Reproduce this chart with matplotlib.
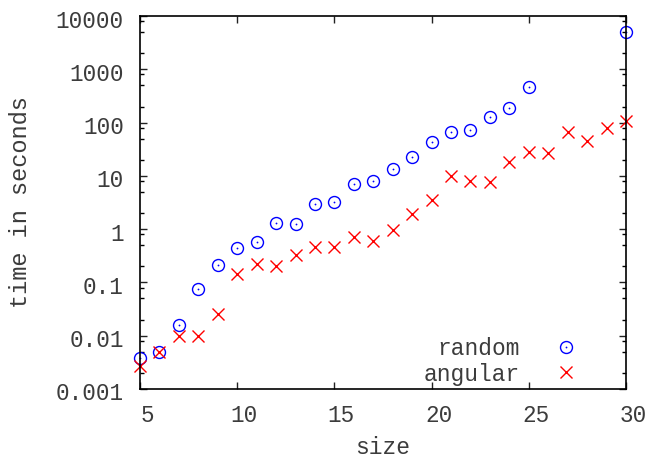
import matplotlib
matplotlib.use("Agg")
import matplotlib.pyplot as plt
from matplotlib.ticker import LogLocator, FixedLocator, NullFormatter
from matplotlib.legend_handler import HandlerTuple
from matplotlib.transforms import ScaledTranslation

plt.rcParams['font.family'] = ['Liberation Mono', 'DejaVu Sans Mono']

random_size = [5, 6, 7, 8, 9, 10, 11, 12, 13, 14, 15, 16, 17, 18, 19, 20, 21, 22, 23, 24, 25, 30]
random_time = [0.0039, 0.0049, 0.0159, 0.0743, 0.212, 0.436, 0.566, 1.32, 1.25, 3.00, 3.23,
               7.1, 8.0, 13.6, 22.3, 43.2, 65.6, 72.5, 129, 190, 465, 4940]

angular_size = list(range(5, 31))
angular_time = [0.00273, 0.0049, 0.0099, 0.0099, 0.0255, 0.142, 0.219, 0.206, 0.327, 0.468,
                0.468, 0.703, 0.598, 0.965, 1.90, 3.52, 9.93, 8.11, 7.66, 18.4, 27.7, 26.5,
                67.3, 45.6, 80.0, 108]

x_ticks = [5, 10, 15, 20, 25, 30]
y_ticks = [0.001, 0.01, 0.1, 1, 10, 100, 1000, 10000]
y_tick_labels = ['0.001', '0.01', '0.1', '1', '10', '100', '1000', '10000']

fig = plt.figure(figsize=(6.46, 4.59), dpi=100)
ax = fig.add_axes([140/646, 1 - 389/459, (626-140)/646, (389-16)/459])

blue = '#0000ff'
red = '#ff0000'
txt = '#3c3c3c'

c1, = ax.plot(random_size, random_time, linestyle='none', marker='o', markersize=8.6,
              markerfacecolor='none', markeredgecolor=blue, markeredgewidth=1.0, clip_on=False)
c2, = ax.plot(random_size, random_time, linestyle='none', marker='o', markersize=1.3,
              markerfacecolor=blue, markeredgecolor=blue, markeredgewidth=0, clip_on=False)
a1, = ax.plot(angular_size, angular_time, linestyle='none', marker='x', markersize=9,
              markeredgecolor=red, markeredgewidth=1.0, clip_on=False)

ax.set_yscale('log')
ax.set_xlim(5, 30)
ax.set_ylim(0.001, 10000)
ax.set_xticks(x_ticks)
ax.set_xticklabels([str(v) for v in x_ticks])
ax.set_yticks(y_ticks)
ax.set_yticklabels(y_tick_labels)
ax.yaxis.set_minor_locator(LogLocator(base=10, subs=(2.0, 5.0, 8.0), numticks=20))
ax.yaxis.set_minor_formatter(NullFormatter())
ax.xaxis.set_minor_locator(FixedLocator([]))

ax.tick_params(axis='both', which='major', direction='in', length=5, width=1,
               top=True, right=True, labelsize=16.3, colors='#222222', labelcolor=txt)
ax.tick_params(axis='x', which='major', pad=11)
ax.tick_params(axis='y', which='major', pad=11.6)
ax.tick_params(axis='both', which='minor', direction='in', length=3, width=1,
               top=True, right=True)
for s in ax.spines.values():
    s.set_linewidth(1.2)
    s.set_color('black')

dx = ScaledTranslation(7/100, 0, fig.dpi_scale_trans)
for lab in ax.get_xticklabels():
    lab.set_transform(lab.get_transform() + dx)
dy = ScaledTranslation(0, -2.5/100, fig.dpi_scale_trans)
for lab in ax.get_yticklabels():
    lab.set_transform(lab.get_transform() + dy)

ax.set_xlabel('size', fontsize=16.5, color=txt, labelpad=6.3)
ax.set_ylabel('time in seconds', fontsize=17, color=txt, labelpad=17)

leg = ax.legend([(c1, c2), a1], ['random', 'angular'],
                handler_map={tuple: HandlerTuple(ndivide=1)},
                loc='lower right', bbox_to_anchor=((589-140)/486, (389-385.5)/373),
                frameon=False, markerfirst=False, fontsize=16.5, handlelength=2.0,
                handletextpad=1.02, labelspacing=0.1, borderpad=0, borderaxespad=0)
for t in leg.get_texts():
    t.set_color(txt)

fig.savefig('out.png', dpi=100)
